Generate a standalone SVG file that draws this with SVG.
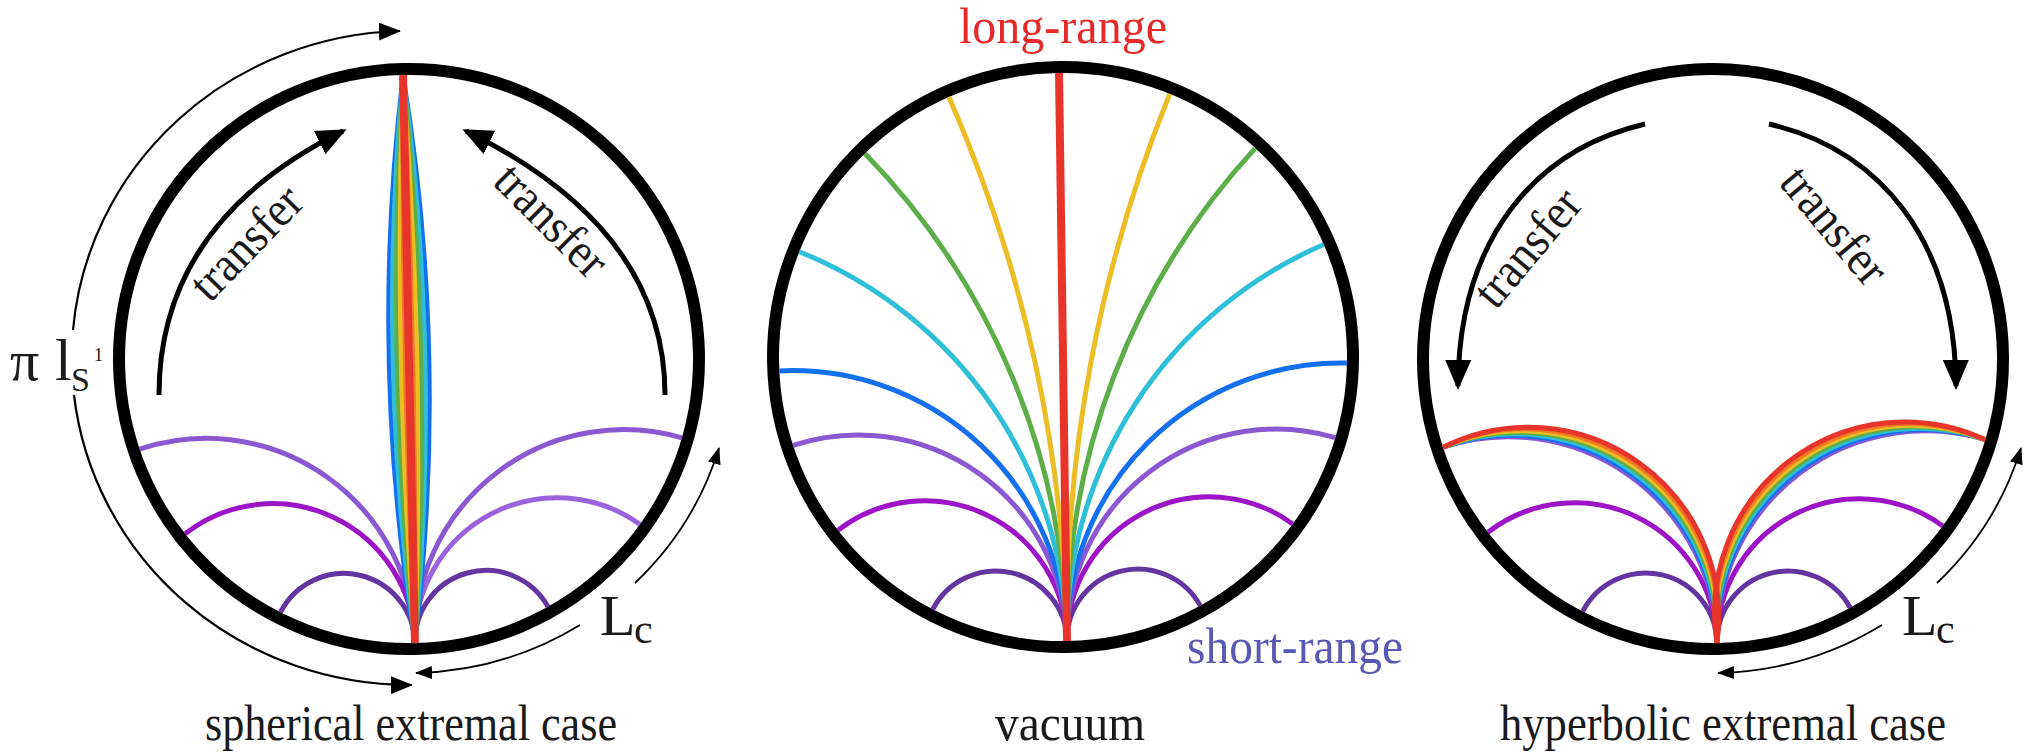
<svg xmlns="http://www.w3.org/2000/svg" width="2028" height="755" viewBox="0 0 2028 755">
<style>
.ring{fill:none;stroke:#000;stroke-width:12}
.g{fill:none;stroke-width:5;stroke-linecap:butt}
.b{fill:none;stroke-width:4.5;stroke-linecap:butt}
.red{stroke:#e8352b}.org{stroke:#f07b22}.yel{stroke:#ecbd24}.grn{stroke:#5cae48}.cyn{stroke:#2fbfd8}.blu{stroke:#1570f0}.lpu{stroke:#8b58d2}.lpu2{stroke:#9a62dc}.mag{stroke:#9c14c6}.dpu{stroke:#6434a0}
.txt{font-family:"Liberation Serif","Times New Roman",serif;fill:#1a1a1a}
.arrow{fill:none;stroke:#000}
</style>
<defs>
<marker id="ahBig" viewBox="0 0 30 26" markerUnits="userSpaceOnUse" markerWidth="30" markerHeight="26" refX="26" refY="13" orient="auto"><path d="M0,0 L30,13 L0,26 z" fill="#000"/></marker>
<marker id="ahMid" viewBox="0 0 22 18" markerUnits="userSpaceOnUse" markerWidth="22" markerHeight="18" refX="21" refY="9" orient="auto"><path d="M0,0 L22,9 L0,18 z" fill="#000"/></marker>
<marker id="ahSmall" viewBox="0 0 17 13" markerUnits="userSpaceOnUse" markerWidth="17" markerHeight="13" refX="16" refY="6.5" orient="auto"><path d="M0,0 L17,6.5 L0,13 z" fill="#000"/></marker>
</defs>
<rect width="2028" height="755" fill="#fff"/>

<!-- Left panel: spherical extremal case -->
<g id="spherical">
<g transform="translate(409,359) rotate(-1.2)">
<circle class="ring" cx="0" cy="0" r="290"/>
<path class="g lpu" d="M -271.2,84.5 A 209 209 0 0 1 0,284"/>
<path class="g mag" d="M -227.4,170.1 A 142.2 142.2 0 0 1 0,284"/>
<path class="g dpu" d="M -133.8,250.6 A 71.1 71.1 0 0 1 0,284"/>
<path class="g lpu" d="M 271.2,84.5 A 209 209 0 0 0 0,284"/>
<path class="g lpu2" d="M 227.4,170.1 A 142.2 142.2 0 0 0 0,284"/>
<path class="g dpu" d="M 133.8,250.6 A 71.1 71.1 0 0 0 0,284"/>
<path class="b blu" d="M 0,-284 A 2026 2026 0 0 0 0,284 M 0,-284 A 2026 2026 0 0 1 0,284"/>
<path class="b cyn" d="M 0,-284 A 2529 2529 0 0 0 0,284 M 0,-284 A 2529 2529 0 0 1 0,284"/>
<path class="b grn" d="M 0,-284 A 3367 3367 0 0 0 0,284 M 0,-284 A 3367 3367 0 0 1 0,284"/>
<path class="b yel" d="M 0,-284 A 5046 5046 0 0 0 0,284 M 0,-284 A 5046 5046 0 0 1 0,284"/>
<path class="b org" d="M 0,-284 A 10084 10084 0 0 0 0,284 M 0,-284 A 10084 10084 0 0 1 0,284"/>
<path class="g red" style="stroke-width:8" d="M 0,-284 L 0,284"/>
</g>
</g>

<!-- Middle panel: vacuum -->
<g id="vacuum">
<g transform="translate(1063,357) rotate(-0.8)">
<circle class="ring" cx="0" cy="0" r="290"/>
<path class="g dpu" d="M -133.8,250.6 A 71.1 71.1 0 0 1 0,284 M 133.8,250.6 A 71.1 71.1 0 0 0 0,284"/>
<path class="g mag" d="M -227.4,170.1 A 142.2 142.2 0 0 1 0,284 M 227.4,170.1 A 142.2 142.2 0 0 0 0,284"/>
<path class="g lpu" d="M -271.2,84.5 A 209 209 0 0 1 0,284 M 271.2,84.5 A 209 209 0 0 0 0,284"/>
<path class="g blu" d="M -283.8,10 A 274.2 274.2 0 0 1 0,284 M 283.8,10 A 274.2 274.2 0 0 0 0,284"/>
<path class="g cyn" d="M -262.3,-108.9 A 425.4 425.4 0 0 1 0,284 M 262.3,-108.9 A 425.4 425.4 0 0 0 0,284"/>
<path class="g grn" d="M -195.2,-206.2 A 713.1 713.1 0 0 1 0,284 M 195.2,-206.2 A 713.1 713.1 0 0 0 0,284"/>
<path class="g yel" d="M -110.4,-261.6 A 1403.4 1403.4 0 0 1 0,284 M 110.4,-261.6 A 1403.4 1403.4 0 0 0 0,284"/>
<path class="g red" style="stroke-width:8" d="M 0,-284 L 0,284"/>
</g>
</g>

<!-- Right panel: hyperbolic extremal case -->
<g id="hyperbolic">
<g transform="translate(1713,359) rotate(-0.8)">
<circle class="ring" cx="0" cy="0" r="290"/>
<path class="g dpu" d="M -133.8,250.6 A 71.1 71.1 0 0 1 0,284 M 133.8,250.6 A 71.1 71.1 0 0 0 0,284"/>
<path class="g mag" d="M -227.4,170.1 A 142.2 142.2 0 0 1 0,284 M 227.4,170.1 A 142.2 142.2 0 0 0 0,284"/>
<path class="b lpu" d="M -271.2,84.5 A 209 209 0 0 1 0,284 M 271.2,84.5 A 209 209 0 0 0 0,284"/>
<path class="b blu" d="M -271.2,84.5 A 205.5 205.5 0 0 1 0,284 M 271.2,84.5 A 205.5 205.5 0 0 0 0,284"/>
<path class="b cyn" d="M -271.2,84.5 A 202.3 202.3 0 0 1 0,284 M 271.2,84.5 A 202.3 202.3 0 0 0 0,284"/>
<path class="b grn" d="M -271.2,84.5 A 199.2 199.2 0 0 1 0,284 M 271.2,84.5 A 199.2 199.2 0 0 0 0,284"/>
<path class="b yel" d="M -271.2,84.5 A 196.2 196.2 0 0 1 0,284 M 271.2,84.5 A 196.2 196.2 0 0 0 0,284"/>
<path class="b org" d="M -271.2,84.5 A 193.3 193.3 0 0 1 0,284 M 271.2,84.5 A 193.3 193.3 0 0 0 0,284"/>
<path class="b red" style="stroke-width:5" d="M -271.2,84.5 A 190.5 190.5 0 0 1 0,284 M 271.2,84.5 A 190.5 190.5 0 0 0 0,284"/>
</g>
</g>

<!-- Connectors / arrows -->
<g id="connectors">
<path class="arrow" stroke-width="5" marker-end="url(#ahBig)" d="M 159,395 C 159,262 240,182 343,131"/>
<path class="arrow" stroke-width="5" marker-end="url(#ahBig)" d="M 665,395 C 665,262 570,182 466,131"/>
<path class="arrow" stroke-width="2.2" marker-end="url(#ahMid)" d="M 73,330 A 338 327 0 0 1 400,31"/>
<path class="arrow" stroke-width="2.2" marker-end="url(#ahMid)" d="M 74,395 A 338 327 0 0 0 412,685"/>
<path class="arrow" stroke-width="1.8" marker-end="url(#ahSmall)" d="M 580,625 A 324 315 0 0 1 416,673"/>
<path class="arrow" stroke-width="1.8" marker-end="url(#ahSmall)" d="M 635,583 A 324 315 0 0 0 719,448"/>
<path class="arrow" stroke-width="5" marker-end="url(#ahBig)" d="M 1769,124 C 1880,150 1955,240 1956,386"/>
<path class="arrow" stroke-width="5" marker-end="url(#ahBig)" d="M 1645,124 C 1534,150 1459,240 1458,386"/>
<path class="arrow" stroke-width="1.8" marker-end="url(#ahSmall)" d="M 1882,625 A 324 315 0 0 1 1718,673"/>
<path class="arrow" stroke-width="1.8" marker-end="url(#ahSmall)" d="M 1937,583 A 324 315 0 0 0 2021,448"/>
</g>

<!-- Labels -->
<g id="labels">
<text class="txt" font-size="50" text-anchor="middle" textLength="138" lengthAdjust="spacingAndGlyphs" transform="translate(258,254) rotate(-46)">transfer</text>
<text class="txt" font-size="50" text-anchor="middle" textLength="138" lengthAdjust="spacingAndGlyphs" transform="translate(540,232) rotate(45)">transfer</text>
<text class="txt" font-size="50" text-anchor="middle" textLength="138" lengthAdjust="spacingAndGlyphs" transform="translate(1540,258) rotate(-50)">transfer</text>
<text class="txt" font-size="50" text-anchor="middle" textLength="138" lengthAdjust="spacingAndGlyphs" transform="translate(1822,236) rotate(50)">transfer</text>
<text class="txt" font-size="58" x="10" y="380">π</text>
<text class="txt" font-size="60" x="55" y="380">l</text>
<text class="txt" font-size="34" x="71" y="391">S</text>
<text class="txt" font-size="18" x="94" y="361">1</text>
<text class="txt" font-size="58" x="600" y="635">L</text>
<text class="txt" font-size="42" x="634" y="643">c</text>
<text class="txt" font-size="58" x="1902" y="635">L</text>
<text class="txt" font-size="42" x="1936" y="643">c</text>
<text class="txt" font-size="50" x="1063" y="43" text-anchor="middle" textLength="208" lengthAdjust="spacingAndGlyphs" style="fill:#e62a2a">long-range</text>
<text class="txt" font-size="50" x="1187" y="663" textLength="216" lengthAdjust="spacingAndGlyphs" style="fill:#5b57b5">short-range</text>
<text class="txt" font-size="50" x="411" y="740" text-anchor="middle" textLength="412" lengthAdjust="spacingAndGlyphs">spherical extremal case</text>
<text class="txt" font-size="50" x="1070" y="740" text-anchor="middle" textLength="150" lengthAdjust="spacingAndGlyphs">vacuum</text>
<text class="txt" font-size="50" x="1723" y="740" text-anchor="middle" textLength="446" lengthAdjust="spacingAndGlyphs">hyperbolic extremal case</text>
</g>
</svg>
